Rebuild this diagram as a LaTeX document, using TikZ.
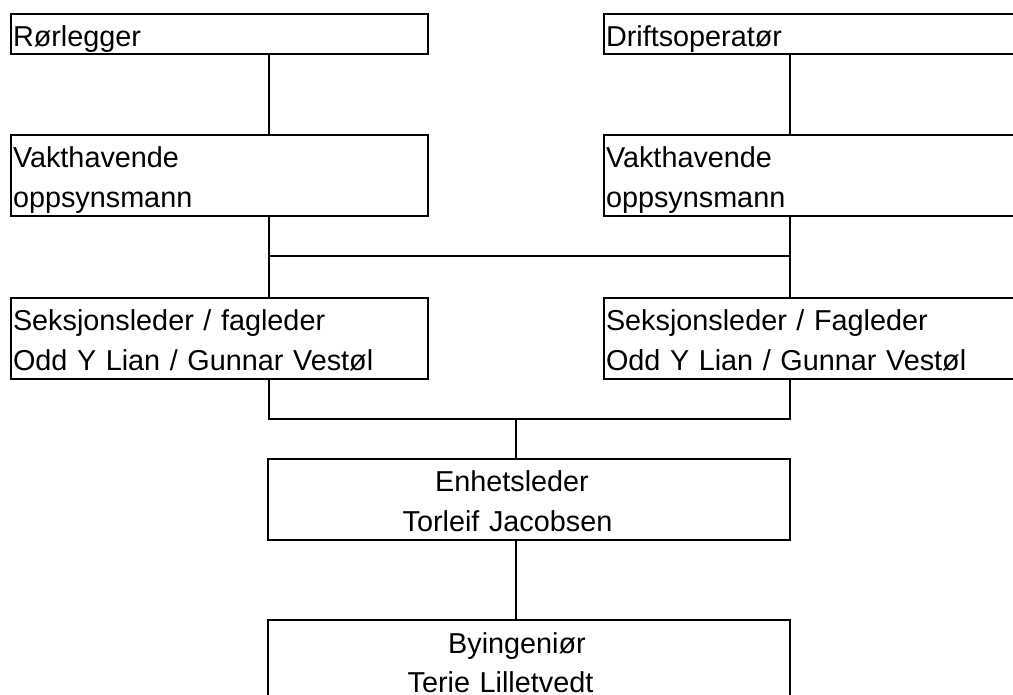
\documentclass[tikz,border=0pt]{standalone}
\usepackage{fontspec}
\setmainfont{Liberation Sans}
\usetikzlibrary{positioning}

\begin{document}
\begin{tikzpicture}[x=0.5pt,y=-0.5pt,line width=0.85pt,
    post/.style={draw,outer sep=0pt,inner xsep=1pt,inner ysep=0pt,font=\fontsize{14.4pt}{20pt}\selectfont,text height=16.5pt},
    side/.style={post,text width=206.5pt,align=left},
    head/.style={post,text width=259pt,align=center,text depth=24pt},
    oneline/.style={text depth=3.5pt},
    twoline/.style={text depth=24pt},
    node distance=40.5pt and 88pt]
	\useasboundingbox (0,0) rectangle (1013,695);
	\node[side,oneline,anchor=north west] (Rorlegger) at (11,14) {Rørlegger};
	\node[side,oneline,right=of Rorlegger] (Drift) {Driftsoperatør};
	\node[side,twoline,below=of Rorlegger] (VaktL) {Vakthavende\\oppsynsmann};
	\node[side,twoline,below=of Drift] (VaktR) {Vakthavende\\oppsynsmann};
	\node[side,twoline,below=41pt of VaktL] (SeksL) {Seksjonsleder / fagleder\\Odd Y Lian / Gunnar Vestøl};
	\node[side,twoline,below=41pt of VaktR] (SeksR) {Seksjonsleder / Fagleder\\Odd Y Lian / Gunnar Vestøl};
	\node[head,anchor=north west] (Enhet) at (268,459) {\mbox{Enhetsleder\hspace{17pt}}\\\mbox{Torleif Jacobsen\hspace{21.5pt}}};
	\node[head,below=40pt of Enhet] (Bying) {\mbox{Byingeniør\hspace{12pt}}\\\mbox{Terie Lilletvedt\hspace{28.5pt}}};

	\draw ([xshift=129pt]Rorlegger.south west) -- ([xshift=129pt]VaktL.north west);
	\draw ([xshift=93pt]Drift.south west) -- ([xshift=93pt]VaktR.north west);
	\draw ([xshift=129pt]VaktL.south west) -- ([xshift=129pt]SeksL.north west);
	\draw ([xshift=93pt]VaktR.south west) -- ([xshift=93pt]SeksR.north west);
	\draw ([xshift=129pt,yshift=-20pt]VaktL.south west) -- ([xshift=93pt,yshift=-20pt]VaktR.south west);
	\coordinate (hub) at ([xshift=124pt,yshift=20pt]Enhet.north west);
	\draw ([xshift=129pt]SeksL.south west) |- (hub) -| ([xshift=93pt]SeksR.south west);
	\draw (hub) -- ([xshift=124pt]Enhet.north west);
	\draw ([xshift=124pt]Enhet.south west) -- ([xshift=124pt]Bying.north west);
\end{tikzpicture}
\end{document}
